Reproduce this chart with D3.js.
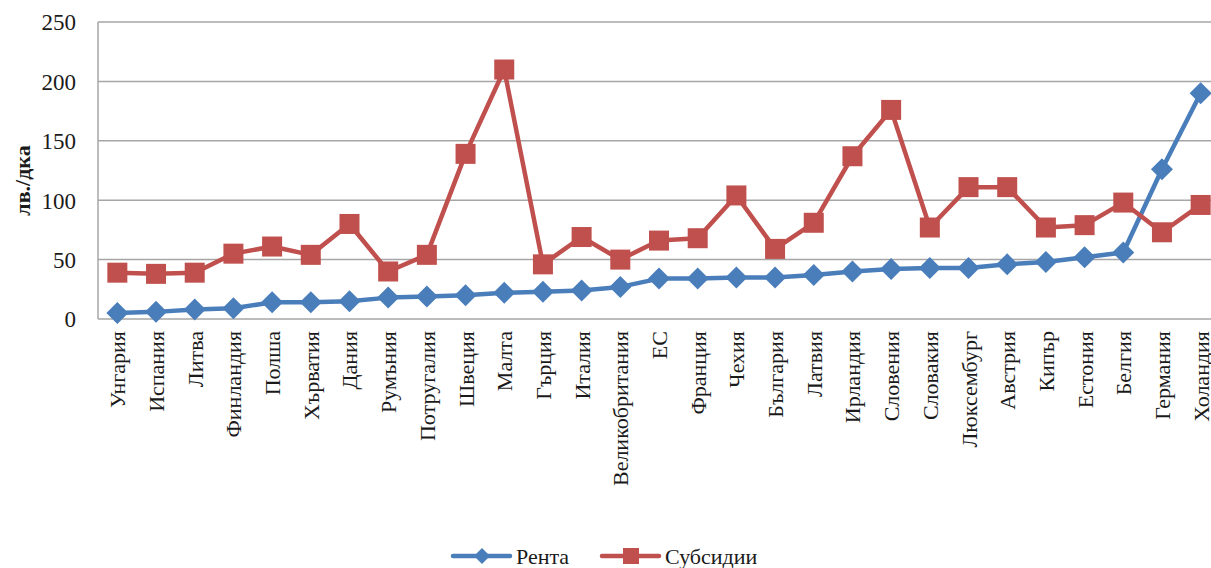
<!DOCTYPE html>
<html>
<head>
<meta charset="utf-8">
<script src="https://cdn.jsdelivr.net/npm/d3@7"></script>
<style>
  body { margin: 0; background: #fff; }
  svg { display: block; }
</style>
</head>
<body>
<svg id="chart" width="1211" height="568"></svg>
<script>
// Countries along the x axis
const countries = ["Унгария", "Испания", "Литва", "Финландия", "Полша", "Хърватия", "Дания",
  "Румъния", "Потругалия", "Швеция", "Малта", "Гърция", "Италия", "Великобритания", "ЕС",
  "Франция", "Чехия", "България", "Латвия", "Ирландия", "Словения", "Словакия", "Люксембург",
  "Австрия", "Кипър", "Естония", "Белгия", "Германия", "Холандия"];

// Land rent, лв./дка
const renta = [5, 6, 8, 9, 14, 14, 15, 18, 19, 20, 22, 23, 24, 27, 34,
  34, 35, 35, 37, 40, 42, 43, 43, 46, 48, 52, 56, 126, 190];

// Subsidies, лв./дка
const subsidii = [39, 38, 39, 55, 61, 54, 80, 40, 54, 139, 210, 46, 69, 50, 66,
  68, 104, 59, 81, 137, 176, 77, 111, 111, 77, 79, 98, 73, 96];

const yTicks = [0, 50, 100, 150, 200, 250];
const seriesNames = ["Рента", "Субсидии"];

const serif = "'Times New Roman', 'Liberation Serif', Tinos, 'Nimbus Roman', 'DejaVu Serif', 'Noto Serif', serif";
const svg = d3.select("#chart");
const plotLeft = 98, plotRight = 1220, plotTop = 22, plotBottom = 319;

const x = d3.scalePoint().domain(countries).range([plotLeft, plotRight]).padding(0.5);
const y = d3.scaleLinear().domain([0, 250]).range([plotBottom, plotTop]);

const gridColor = "#a6a6a6";
const blue = "#4a7ebb";
const red = "#c0504d";

// Diamond marker path with half-diagonal r
const diamond = r => `M0,${-r}L${r},0L0,${r}L${-r},0Z`;

// Horizontal gridlines
svg.append("g").selectAll("line").data(yTicks).join("line")
  .attr("x1", plotLeft).attr("x2", 1211)
  .attr("y1", d => y(d)).attr("y2", d => y(d))
  .attr("stroke", gridColor).attr("stroke-width", 1.5);

// Left axis line
svg.append("line").attr("x1", plotLeft).attr("x2", plotLeft).attr("y1", plotTop).attr("y2", plotBottom)
  .attr("stroke", gridColor).attr("stroke-width", 1.5);

// Y tick labels
const yAxis = d3.axisLeft(y).tickValues(yTicks).tickSize(0).tickPadding(22);
const gy = svg.append("g").attr("transform", `translate(${plotLeft},0)`).call(yAxis)
  .attr("font-family", serif).attr("font-size", 23);
gy.select(".domain").remove();
gy.selectAll("text").attr("fill", "#1a1a1a").attr("dy", "0.34em");

// Y axis title
svg.append("text")
  .attr("transform", `translate(30,${(plotTop + plotBottom) / 2 + 10}) rotate(-90)`)
  .attr("text-anchor", "middle")
  .attr("font-family", serif).attr("font-size", 22).attr("font-weight", "bold")
  .attr("fill", "#1a1a1a")
  .text("лв./дка");

// Category labels, rotated
svg.append("g").selectAll("text").data(countries).join("text")
  .attr("transform", d => `translate(${x(d) + 8},${plotBottom + 12}) rotate(-90)`)
  .attr("text-anchor", "end")
  .attr("font-family", serif).attr("font-size", 22).attr("fill", "#1a1a1a")
  .text(d => d);

const line = d3.line().x((d, i) => x(countries[i])).y(d => y(d));

// Rent line with diamond markers
svg.append("path").datum(renta).attr("d", line)
  .attr("fill", "none").attr("stroke", blue).attr("stroke-width", 4.5)
  .attr("stroke-linejoin", "round");
svg.append("g").selectAll("path").data(renta).join("path")
  .attr("d", diamond(11))
  .attr("transform", (d, i) => `translate(${x(countries[i])},${y(d)})`)
  .attr("fill", blue);

// Subsidies line with square markers
svg.append("path").datum(subsidii).attr("d", line)
  .attr("fill", "none").attr("stroke", red).attr("stroke-width", 4.5)
  .attr("stroke-linejoin", "round");
svg.append("g").selectAll("rect").data(subsidii).join("rect")
  .attr("x", (d, i) => x(countries[i]) - 10).attr("y", d => y(d) - 10)
  .attr("width", 20).attr("height", 20)
  .attr("fill", red);

// Legend
const legend = svg.append("g");
const legendItems = [
  { name: seriesNames[0], color: blue, x: 453, marker: "diamond" },
  { name: seriesNames[1], color: red, x: 602, marker: "square" }
];
legendItems.forEach(it => {
  const ly = 556;
  legend.append("line").attr("x1", it.x).attr("x2", it.x + 57)
    .attr("y1", ly).attr("y2", ly).attr("stroke", it.color)
    .attr("stroke-width", 4.5).attr("stroke-linecap", "round");
  if (it.marker === "diamond") {
    legend.append("path").attr("d", diamond(8))
      .attr("transform", `translate(${it.x + 29},${ly})`).attr("fill", it.color);
  } else {
    legend.append("rect").attr("x", it.x + 21).attr("y", ly - 8)
      .attr("width", 16).attr("height", 16).attr("fill", it.color);
  }
  legend.append("text").attr("x", it.x + 63).attr("y", ly + 8)
    .attr("font-family", serif).attr("font-size", 22)
    .attr("fill", "#1a1a1a").text(it.name);
});
</script>
</body>
</html>
